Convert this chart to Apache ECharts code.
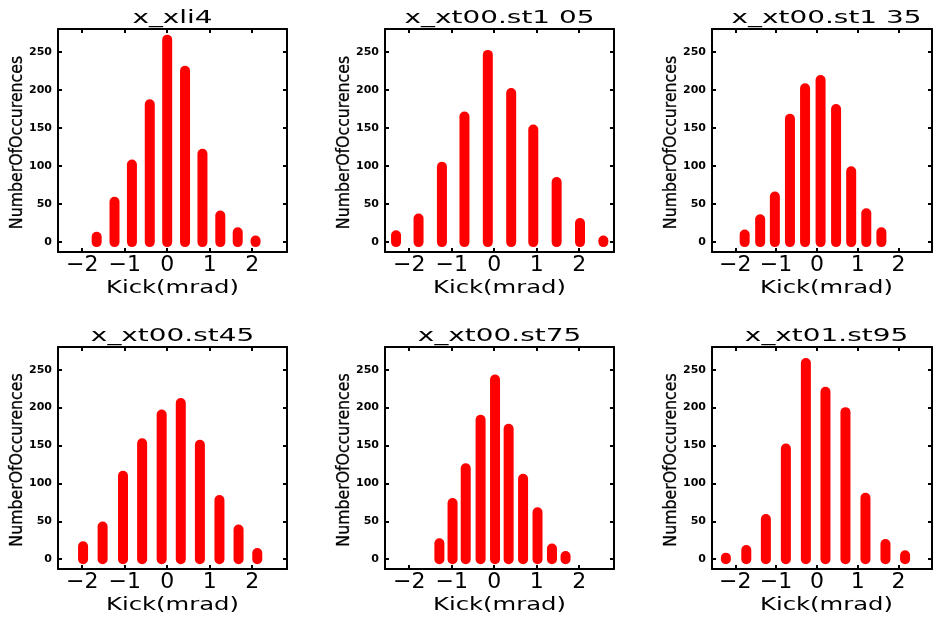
<!DOCTYPE html>
<html>
<head>
<meta charset="utf-8">
<script src="https://cdn.jsdelivr.net/npm/echarts@6/dist/echarts.min.js"></script>
<style>
html, body { margin: 0; padding: 0; background: #fff; }
#main { width: 935px; height: 619px; }
</style>
</head>
<body>
<div id="main"></div>
<script>
// histogram data, one pair of arrays per panel
var titles = ['x_xli4', 'x_xt00.st1 05', 'x_xt00.st1 35', 'x_xt00.st45', 'x_xt00.st75', 'x_xt01.st95'];

var kick1 = [-1.66, -1.24, -0.83, -0.41, 0.00, 0.42, 0.83, 1.25, 1.66, 2.08];
var count1 = [7, 53, 102, 181, 266, 225, 116, 35, 13, 2];

var kick2 = [-2.31, -1.78, -1.23, -0.70, -0.15, 0.40, 0.92, 1.47, 2.02, 2.57];
var count2 = [9, 31, 99, 165, 246, 196, 148, 79, 25, 2];

var kick3 = [-1.77, -1.39, -1.03, -0.66, -0.29, 0.09, 0.47, 0.84, 1.21, 1.58];
var count3 = [10, 30, 60, 162, 202, 213, 175, 93, 38, 13];

var kick4 = [-1.98, -1.52, -1.04, -0.59, -0.13, 0.32, 0.77, 1.23, 1.68, 2.12];
var count4 = [17, 43, 110, 153, 191, 206, 151, 78, 39, 8];

var kick5 = [-1.29, -0.98, -0.67, -0.32, 0.02, 0.34, 0.68, 1.02, 1.36, 1.68];
var count5 = [21, 74, 120, 184, 237, 172, 106, 62, 14, 4];

var kick6 = [-2.23, -1.73, -1.25, -0.76, -0.27, 0.21, 0.70, 1.19, 1.68, 2.16];
var count6 = [2, 12, 53, 146, 259, 221, 194, 81, 20, 5];

var xName = 'Kick(mrad)';
var yName = 'NumberOfOccurences';
var xRange = [-2.57, 2.82];
var yRange = [-13, 280];

var kicks = [kick1, kick2, kick3, kick4, kick5, kick6];
var counts = [count1, count2, count3, count4, count5, count6];

var gridLefts = [58, 385, 712];
var gridTops = [29, 347];
var gridHeights = [223, 222];
var gridW = 229;

function blackLine() {
    return { color: '#000', width: 2 };
}

function xFmt(v) {
    if (Math.abs(v - Math.round(v)) > 1e-6) return '';
    v = Math.round(v);
    return v < 0 ? '\u2212' + Math.abs(v) : String(v);
}

function yFmt(v) {
    return (Math.abs(v % 50) < 1e-6) ? String(v) : '';
}

function drawStick(params, api) {
    var p0 = api.coord([api.value(0), 0]);
    var p1 = api.coord([api.value(0), api.value(1)]);
    return {
        type: 'line',
        shape: { x1: p0[0], y1: p0[1], x2: p1[0], y2: p1[1] },
        style: { stroke: '#ff0000', lineWidth: 10, lineCap: 'round' }
    };
}

function buildOption() {
    var grids = [], xAxes = [], yAxes = [], series = [], texts = [];

    for (var i = 0; i < 6; i++) {
        var col = i % 3, row = Math.floor(i / 3);
        var gx = gridLefts[col], gy = gridTops[row], gh = gridHeights[row];
        grids.push({ left: gx, top: gy, width: gridW, height: gh });

        // bottom x axis with labels, top x axis only for the mirrored ticks
        xAxes.push({
            type: 'value', gridIndex: i, position: 'bottom', min: xRange[0], max: xRange[1], splitNumber: 5,
            axisLine: { show: true, onZero: false, lineStyle: blackLine() },
            axisTick: { show: true, inside: true, length: 4, lineStyle: blackLine() },
            splitLine: { show: false },
            axisLabel: { margin: 2, color: '#000', fontSize: 22, fontFamily: 'DejaVu Sans', formatter: xFmt }
        });
        xAxes.push({
            type: 'value', gridIndex: i, position: 'top', min: xRange[0], max: xRange[1], splitNumber: 5,
            axisLine: { show: true, onZero: false, lineStyle: blackLine() },
            axisTick: { show: true, inside: true, length: 4, lineStyle: blackLine() },
            splitLine: { show: false },
            axisLabel: { show: false }
        });
        yAxes.push({
            type: 'value', gridIndex: i, position: 'left', min: yRange[0], max: yRange[1], splitNumber: 6,
            axisLine: { show: true, onZero: false, lineStyle: blackLine() },
            axisTick: { show: true, inside: true, length: 4, lineStyle: blackLine() },
            splitLine: { show: false },
            axisLabel: { margin: 6, color: '#000', fontSize: 11, fontWeight: 'bold', fontFamily: 'DejaVu Sans', formatter: yFmt }
        });
        yAxes.push({
            type: 'value', gridIndex: i, position: 'right', min: yRange[0], max: yRange[1], splitNumber: 6,
            axisLine: { show: true, onZero: false, lineStyle: blackLine() },
            axisTick: { show: true, inside: true, length: 4, lineStyle: blackLine() },
            splitLine: { show: false },
            axisLabel: { show: false }
        });

        var data = [];
        for (var j = 0; j < kicks[i].length; j++) {
            data.push([kicks[i][j], counts[i][j]]);
        }
        series.push({
            type: 'custom',
            xAxisIndex: i * 2,
            yAxisIndex: i * 2,
            data: data,
            renderItem: drawStick
        });

        var cx = gx + gridW / 2;
        // panel title
        texts.push({
            type: 'text', x: cx, y: gy - 11, scaleX: 1.55, z: 100,
            style: { text: titles[i], fontSize: 18, fontFamily: 'DejaVu Sans', fill: '#000', align: 'center', verticalAlign: 'middle' }
        });
        // x axis name
        texts.push({
            type: 'text', x: cx, y: gy + gh + 36, scaleX: 1.35, z: 100,
            style: { text: xName, fontSize: 18, fontFamily: 'DejaVu Sans', fill: '#000', align: 'center', verticalAlign: 'middle' }
        });
        // y axis name
        texts.push({
            type: 'text', x: gx - 40.5, y: gy + gh / 2 + 2, rotation: Math.PI / 2, scaleX: 0.9, z: 100,
            style: { text: yName, fontSize: 17.5, fontFamily: 'DejaVu Sans', fill: '#000', stroke: '#000', lineWidth: 0.3,
                align: 'center', verticalAlign: 'middle' }
        });
    }

    return {
        backgroundColor: '#ffffff',
        animation: false,
        grid: grids,
        xAxis: xAxes,
        yAxis: yAxes,
        series: series,
        graphic: { elements: texts }
    };
}

var chart = echarts.init(document.getElementById('main'));
chart.setOption(buildOption());
</script>
</body>
</html>
